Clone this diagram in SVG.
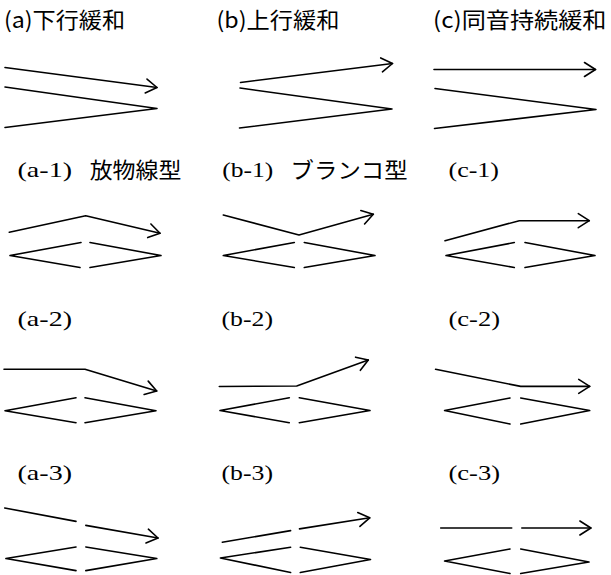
<svg xmlns="http://www.w3.org/2000/svg" width="611" height="575" viewBox="0 0 611 575">
<style>
.ln{fill:none;stroke:#000;stroke-width:1.6;stroke-linecap:round;stroke-linejoin:round}
.ar{marker-end:url(#ah)}
.t1{font-family:"Noto Sans CJK JP","Noto Sans",sans-serif;font-size:22px;fill:#000}
.t2{font-family:"Liberation Serif","Noto Sans CJK JP",serif;font-size:22px;fill:#000}
</style>
<defs>
<marker id="ah" markerWidth="16" markerHeight="16" refX="13" refY="8" orient="auto" markerUnits="userSpaceOnUse" overflow="visible">
<path d="M2,1 L13,8 L2,15" fill="none" stroke="#000" stroke-width="1.6" stroke-linecap="round" stroke-linejoin="round"/>
</marker>
</defs>
<rect width="611" height="575" fill="#fff"/>

<g id="panel-a">
<text class="t1" x="4" y="28" textLength="121" lengthAdjust="spacingAndGlyphs">(a)下行緩和</text>
<path class="ln ar" d="M5,67.5 L157,87.5"/>
<path class="ln" d="M5,87 L157,108.5 L5,127.5"/>
</g>
<g id="panel-b">
<text class="t1" x="216.5" y="28" textLength="123" lengthAdjust="spacingAndGlyphs">(b)上行緩和</text>
<path class="ln ar" d="M240.5,82.5 L392.5,63.5"/>
<path class="ln" d="M240,88 L392,109 L239.5,128"/>
</g>
<g id="panel-c">
<text class="t1" x="433" y="28" textLength="173.5" lengthAdjust="spacingAndGlyphs">(c)同音持続緩和</text>
<path class="ln ar" d="M434,69.5 L595.5,69.5"/>
<path class="ln" d="M435,88.5 L596,109.5 L434.5,128.5"/>
</g>

<g id="panel-a1">
<text class="t2" x="17.5" y="177"><tspan textLength="54.5" lengthAdjust="spacingAndGlyphs">(a-1)</tspan><tspan x="89.7" dy="1" font-family="Noto Sans CJK JP, sans-serif" textLength="91.7" lengthAdjust="spacingAndGlyphs">放物線型</tspan></text>
<path class="ln ar" d="M9.3,232.3 L85.7,215.7 L160,233.3"/>
<path class="ln" d="M81,242.5 L10,255.5 L80,267.5 M90,242.5 L161,255.5 L90,267.5"/>
</g>
<g id="panel-b1">
<text class="t2" x="222.3" y="177"><tspan textLength="51" lengthAdjust="spacingAndGlyphs">(b-1)</tspan><tspan x="290.6" dy="1" font-family="Noto Sans CJK JP, sans-serif" textLength="117" lengthAdjust="spacingAndGlyphs">ブランコ型</tspan></text>
<path class="ln ar" d="M223.3,215 L299,235 L373.3,214.3"/>
<path class="ln" d="M294.3,242.5 L223.3,255.5 L294.3,267.5 M304.3,242.5 L375,255.5 L304.3,267.5"/>
</g>
<g id="panel-c1">
<text class="t2" x="448.5" y="177" textLength="50.5" lengthAdjust="spacingAndGlyphs">(c-1)</text>
<path class="ln ar" d="M445,240.7 L519.3,220.7 L589.3,220.7"/>
<path class="ln" d="M514.3,242.5 L446,255.5 L514.3,267.5 M525,242.5 L595,255.5 L525,267.5"/>
</g>

<g id="panel-a2">
<text class="t2" x="17.5" y="326" textLength="54.5" lengthAdjust="spacingAndGlyphs">(a-2)</text>
<path class="ln ar" d="M4,369.3 L85,369.3 L156.7,391"/>
<path class="ln" d="M76,397.7 L5,410.7 L76,422.7 M85,397.7 L156,410.7 L85,422.7"/>
</g>
<g id="panel-b2">
<text class="t2" x="221.5" y="326" textLength="51.5" lengthAdjust="spacingAndGlyphs">(b-2)</text>
<path class="ln ar" d="M219.3,386.5 L296.7,386 L368.3,360"/>
<path class="ln" d="M289.3,397.7 L220,410.5 L289.3,422.7 M299.3,397.7 L370,410.5 L299.3,422.7"/>
</g>
<g id="panel-c2">
<text class="t2" x="448.5" y="326" textLength="51.5" lengthAdjust="spacingAndGlyphs">(c-2)</text>
<path class="ln ar" d="M435.6,369.3 L520.7,386.4 L589.7,386.4"/>
<path class="ln" d="M510,398 L444.6,410.5 L510,424 M520.7,398 L589.7,410.5 L520.7,424"/>
</g>

<g id="panel-a3">
<text class="t2" x="17.5" y="480" textLength="54.5" lengthAdjust="spacingAndGlyphs">(a-3)</text>
<path class="ln" d="M4.7,508 L76,521.4"/>
<path class="ln ar" d="M85.8,525.4 L158,538"/>
<path class="ln" d="M76,547 L5.9,558.5 L76,570.6 M85.8,547 L156.8,558.5 L85.8,570.6"/>
</g>
<g id="panel-b3">
<text class="t2" x="221.5" y="480" textLength="51.5" lengthAdjust="spacingAndGlyphs">(b-3)</text>
<path class="ln" d="M222.3,542.2 L290.6,530.6"/>
<path class="ln ar" d="M299.5,528.9 L369.7,517.8"/>
<path class="ln" d="M290.6,547.2 L220.4,558 L290.6,572.5 M300.3,547.2 L370.5,559.5 L300.3,572.5"/>
</g>
<g id="panel-c3">
<text class="t2" x="448.5" y="480" textLength="51.5" lengthAdjust="spacingAndGlyphs">(c-3)</text>
<path class="ln" d="M440.7,528 L511.7,528"/>
<path class="ln ar" d="M521.8,528 L590.9,528"/>
<path class="ln" d="M510,549 L444.6,561 L510,573.5 M520.7,549 L589,562 L520.7,573.5"/>
</g>
</svg>
